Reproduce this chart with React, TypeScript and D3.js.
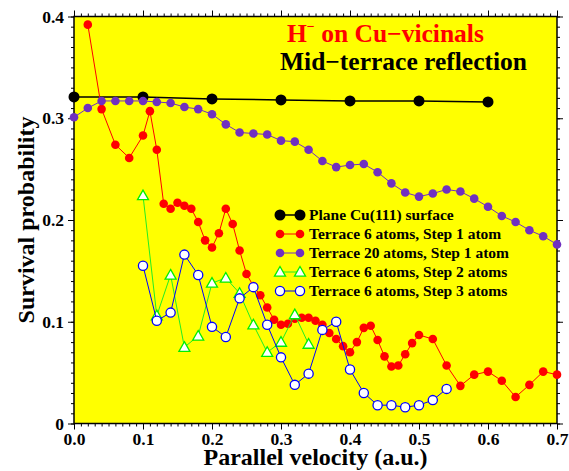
import React, { useEffect, useRef } from "react";
import * as d3 from "d3";

// plane Cu(111)
const planeX = [0, 0.1, 0.2, 0.3, 0.4, 0.5, 0.6];
const planeY = [0.321, 0.321, 0.319, 0.318, 0.317, 0.317, 0.316];

// terrace 6, step 1
const t6s1X = [
  0.02, 0.04, 0.06, 0.08, 0.1, 0.11, 0.12, 0.13, 0.14, 0.15, 0.16, 0.17, 0.18, 0.19, 0.2,
  0.21, 0.22, 0.23, 0.24, 0.25, 0.26, 0.27, 0.28, 0.29, 0.3, 0.31, 0.32, 0.33, 0.34, 0.35,
  0.36, 0.37, 0.38, 0.39, 0.4, 0.41, 0.42, 0.43, 0.44, 0.45, 0.46, 0.47, 0.48, 0.49, 0.5,
  0.52, 0.54, 0.56, 0.58, 0.6, 0.62, 0.64, 0.66, 0.68, 0.7,
];
const t6s1Y = [
  0.392, 0.309, 0.274, 0.261, 0.283, 0.307, 0.269, 0.216, 0.211, 0.217, 0.214, 0.211, 0.198,
  0.18, 0.173, 0.187, 0.211, 0.196, 0.17, 0.147, 0.135, 0.126, 0.114, 0.102, 0.097, 0.098,
  0.103, 0.104, 0.104, 0.101, 0.097, 0.089, 0.083, 0.076, 0.07, 0.08, 0.094, 0.096, 0.082,
  0.066, 0.056, 0.057, 0.068, 0.079, 0.087, 0.083, 0.057, 0.037, 0.048, 0.051, 0.042, 0.026,
  0.038, 0.051, 0.048,
];

// terrace 20, step 1
const t20s1X = [
  0, 0.02, 0.04, 0.06, 0.08, 0.1, 0.12, 0.14, 0.16, 0.18, 0.2, 0.22, 0.24, 0.26, 0.28, 0.3,
  0.32, 0.34, 0.36, 0.38, 0.4, 0.42, 0.44, 0.46, 0.48, 0.5, 0.52, 0.54, 0.56, 0.58, 0.6, 0.62,
  0.64, 0.66, 0.68, 0.7,
];
const t20s1Y = [
  0.301, 0.31, 0.317, 0.317, 0.317, 0.317, 0.316, 0.315, 0.311, 0.309, 0.304, 0.294, 0.286,
  0.285, 0.284, 0.278, 0.277, 0.269, 0.258, 0.252, 0.254, 0.255, 0.247, 0.236, 0.227, 0.223,
  0.226, 0.23, 0.228, 0.221, 0.213, 0.204, 0.198, 0.19, 0.184, 0.176,
];

// terrace 6, step 2
const t6s2X = [0.1, 0.12, 0.14, 0.16, 0.18, 0.2, 0.22, 0.24, 0.26, 0.28, 0.3, 0.32, 0.34];
const t6s2Y = [0.224, 0.106, 0.146, 0.075, 0.086, 0.138, 0.143, 0.128, 0.097, 0.07, 0.08, 0.107, 0.078];

// terrace 6, step 3
const t6s3X = [
  0.1, 0.12, 0.14, 0.16, 0.18, 0.2, 0.22, 0.24, 0.26, 0.28, 0.3, 0.32, 0.34, 0.36, 0.38, 0.4,
  0.42, 0.44, 0.46, 0.48, 0.5, 0.52, 0.54,
];
const t6s3Y = [
  0.155, 0.101, 0.109, 0.166, 0.146, 0.095, 0.085, 0.123, 0.134, 0.097, 0.065, 0.038, 0.049,
  0.092, 0.1, 0.053, 0.03, 0.018, 0.018, 0.016, 0.018, 0.023, 0.034,
];

const legendLabels = [
  "Plane Cu(111) surface",
  "Terrace 6 atoms, Step 1 atom",
  "Terrace 20 atoms, Step 1 atom",
  "Terrace 6 atoms, Step 2 atoms",
  "Terrace 6 atoms, Step 3 atoms",
];

const xTicks = [0, 0.1, 0.2, 0.3, 0.4, 0.5, 0.6, 0.7];
const yTicks = [0, 0.1, 0.2, 0.3, 0.4];

const FONT = "'Liberation Serif', 'Times New Roman', serif";

type Marker = "dot" | "bigdot" | "tri" | "ring";

const App = () => {
  const svgRef = useRef<SVGSVGElement>(null);

  useEffect(() => {
    const width = 569;
    const height = 471;
    const margin = { top: 16.5, right: 12, bottom: 47.5, left: 74 };

    const svg = d3.select(svgRef.current);
    svg.selectAll("*").remove();

    const x = d3.scaleLinear().domain([0, 0.7]).range([margin.left, width - margin.right]);
    const y = d3.scaleLinear().domain([0, 0.4]).range([height - margin.bottom, margin.top]);

    svg
      .append("rect")
      .attr("x", x(0))
      .attr("y", y(0.4))
      .attr("width", x(0.7) - x(0))
      .attr("height", y(0) - y(0.4))
      .attr("fill", "#ffff00");

    const minorX = d3.range(0, 71).map((d) => d / 100);
    const minorY = d3.range(0, 41).map((d) => d / 100);

    const axisG = svg.append("g");
    const addAxis = (axis: any, tx: number, ty: number) => {
      const g = axisG.append("g").attr("transform", `translate(${tx},${ty})`).call(axis);
      g.select(".domain").remove();
      g.selectAll("line").attr("stroke", "#000").attr("stroke-width", 1);
      g.selectAll("text").attr("font-family", FONT).attr("font-weight", "bold").attr("fill", "#000");
      return g;
    };

    // minor ticks
    addAxis(d3.axisBottom(x).tickValues(minorX).tickSize(3).tickFormat(() => ""), 0, y(0));
    addAxis(d3.axisTop(x).tickValues(minorX).tickSize(3).tickFormat(() => ""), 0, y(0.4));
    addAxis(d3.axisLeft(y).tickValues(minorY).tickSize(3).tickFormat(() => ""), x(0), 0);
    addAxis(d3.axisRight(y).tickValues(minorY).tickSize(3).tickFormat(() => ""), x(0.7), 0);
    // major ticks
    addAxis(d3.axisBottom(x).tickValues(xTicks).tickSize(6).tickPadding(3).tickFormat(d3.format(".1f") as any), 0, y(0))
      .selectAll("text")
      .attr("font-size", 17.5);
    addAxis(d3.axisTop(x).tickValues(xTicks).tickSize(6).tickFormat(() => ""), 0, y(0.4));
    addAxis(
      d3
        .axisLeft(y)
        .tickValues(yTicks)
        .tickSize(6)
        .tickPadding(4)
        .tickFormat((d: any) => (d === 0 ? "0" : d3.format(".1f")(d))),
      x(0),
      0
    )
      .selectAll("text")
      .attr("font-size", 17.5);
    addAxis(d3.axisRight(y).tickValues(yTicks).tickSize(6).tickFormat(() => ""), x(0.7), 0);

    svg
      .append("rect")
      .attr("x", x(0))
      .attr("y", y(0.4))
      .attr("width", x(0.7) - x(0))
      .attr("height", y(0) - y(0.4))
      .attr("fill", "none")
      .attr("stroke", "#000")
      .attr("stroke-width", 1.5);

    const drawMarker = (g: any, type: Marker, cx: number, cy: number, color: string) => {
      if (type === "bigdot") {
        g.append("circle").attr("cx", cx).attr("cy", cy).attr("r", 5.5).attr("fill", color);
      } else if (type === "dot") {
        g.append("circle").attr("cx", cx).attr("cy", cy).attr("r", 4.3).attr("fill", color);
      } else if (type === "ring") {
        g.append("circle")
          .attr("cx", cx)
          .attr("cy", cy)
          .attr("r", 4.6)
          .attr("fill", "#fff")
          .attr("stroke", color)
          .attr("stroke-width", 1.3);
      } else {
        const s = 5.5;
        g.append("path")
          .attr("d", `M${cx},${cy - s}L${cx + s},${cy + s * 0.75}L${cx - s},${cy + s * 0.75}Z`)
          .attr("fill", "#fff")
          .attr("stroke", color)
          .attr("stroke-width", 1.3);
      }
    };

    const series = [
      { xs: planeX, ys: planeY, line: "#000", stroke: 1.5, color: "#000", marker: "bigdot" as Marker },
      { xs: t6s1X, ys: t6s1Y, line: "#ff0000", stroke: 1, color: "#ff0000", marker: "dot" as Marker },
      { xs: t20s1X, ys: t20s1Y, line: "#7030c0", stroke: 1, color: "#7030c0", marker: "dot" as Marker },
      { xs: t6s2X, ys: t6s2Y, line: "#22ee22", stroke: 1, color: "#00ee00", marker: "tri" as Marker },
      { xs: t6s3X, ys: t6s3Y, line: "#0000ff", stroke: 1, color: "#0000ff", marker: "ring" as Marker },
    ];

    const line = d3
      .line<[number, number]>()
      .x((d) => x(d[0]))
      .y((d) => y(d[1]));

    series.forEach((s) => {
      const pts: [number, number][] = s.xs.map((v, i) => [v, s.ys[i]]);
      const g = svg.append("g");
      g.append("path")
        .attr("d", line(pts))
        .attr("fill", "none")
        .attr("stroke", s.line)
        .attr("stroke-width", s.stroke);
      pts.forEach((p) => drawMarker(g, s.marker, x(p[0]), y(p[1]), s.color));
    });

    // legend
    const lg = svg.append("g");
    series.forEach((s, i) => {
      const ly = 215 + i * 19;
      lg.append("line")
        .attr("x1", 280)
        .attr("x2", 300)
        .attr("y1", ly)
        .attr("y2", ly)
        .attr("stroke", s.line)
        .attr("stroke-width", s.stroke);
      drawMarker(lg, s.marker, 280, ly, s.color);
      drawMarker(lg, s.marker, 300, ly, s.color);
      lg.append("text")
        .attr("x", 309)
        .attr("y", ly)
        .attr("dy", "0.35em")
        .attr("font-family", FONT)
        .attr("font-weight", "bold")
        .attr("font-size", 15.5)
        .attr("fill", "#000")
        .text(legendLabels[i]);
    });

    // titles
    const t1 = svg
      .append("text")
      .attr("x", 287)
      .attr("y", 42)
      .attr("font-family", FONT)
      .attr("font-weight", "bold")
      .attr("font-size", 25.5)
      .attr("fill", "#ff0000");
    t1.append("tspan").text("H");
    t1.append("tspan").attr("font-size", 14).attr("dy", -11).text("−");
    t1.append("tspan").attr("dy", 11).text(" on Cu−vicinals");

    svg
      .append("text")
      .attr("x", 280)
      .attr("y", 70)
      .attr("font-family", FONT)
      .attr("font-weight", "bold")
      .attr("font-size", 25.5)
      .attr("fill", "#000")
      .text("Mid−terrace reflection");

    svg
      .append("text")
      .attr("x", (x(0) + x(0.7)) / 2)
      .attr("y", 465)
      .attr("text-anchor", "middle")
      .attr("font-family", FONT)
      .attr("font-weight", "bold")
      .attr("font-size", 24)
      .attr("fill", "#000")
      .text("Parallel velocity (a.u.)");

    svg
      .append("text")
      .attr("transform", `translate(34,${(y(0) + y(0.4)) / 2}) rotate(-90)`)
      .attr("text-anchor", "middle")
      .attr("font-family", FONT)
      .attr("font-weight", "bold")
      .attr("font-size", 24)
      .attr("fill", "#000")
      .text("Survival probability");
  }, []);

  return (
    <svg
      ref={svgRef}
      width={569}
      height={471}
      style={{ position: "absolute", left: 0, top: 0, background: "#fff" }}
    />
  );
};

export default App;
